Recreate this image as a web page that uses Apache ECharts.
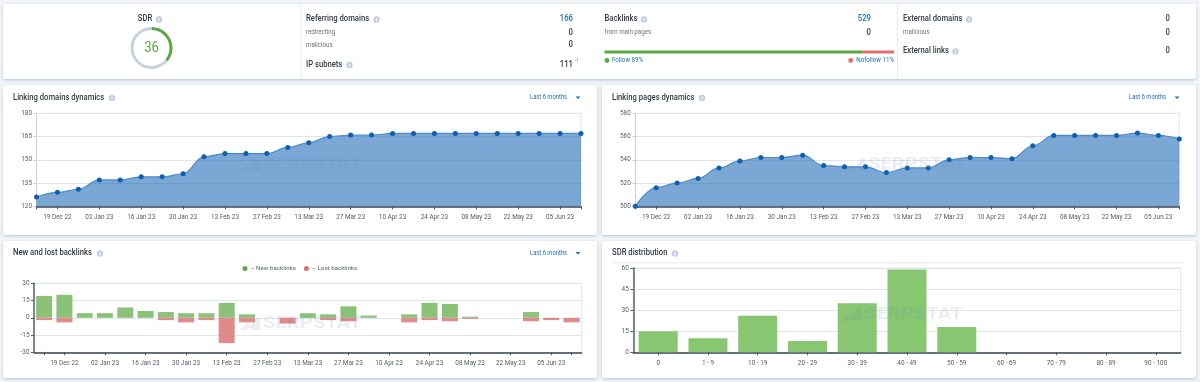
<!DOCTYPE html>
<html><head><meta charset="utf-8">
<style>
html,body{margin:0;padding:0;background:#f2f4f8;width:1200px;height:382px;overflow:hidden}
.card{position:absolute;background:#fff;border-radius:2px;box-shadow:0 1px 3px rgba(130,150,190,.55)}
#c{position:absolute;left:0;top:0;width:1200px;height:382px}
</style>
<script src="https://cdn.jsdelivr.net/npm/echarts@6/dist/echarts.min.js"></script>
</head><body>
<div class="card" style="left:3px;top:4px;width:1193px;height:75px"></div>
<div class="card" style="left:3px;top:85px;width:594px;height:150px"></div>
<div class="card" style="left:602px;top:85px;width:594px;height:150px"></div>
<div class="card" style="left:3px;top:241px;width:594px;height:137px"></div>
<div class="card" style="left:602px;top:241px;width:594px;height:137px"></div>
<div id="c"></div>
<script>
const weeks = ['12 Dec 22','19 Dec 22','26 Dec 22','02 Jan 23','09 Jan 23','16 Jan 23','23 Jan 23','30 Jan 23','06 Feb 23','13 Feb 23','20 Feb 23','27 Feb 23','06 Mar 23','13 Mar 23','20 Mar 23','27 Mar 23','03 Apr 23','10 Apr 23','17 Apr 23','24 Apr 23','01 May 23','08 May 23','15 May 23','22 May 23','29 May 23','05 Jun 23','12 Jun 23'];
const linkingDomains = [126,129,131,137,137,139,139,141,152,154,154,154,158,161,165,166,166,167,167,167,167,167,167,167,167,167,167];
const linkingPages = [500,516,520,524,533,539,542,542,544,535,534,534,529,533,533,540,542,542,541,552,561,561,561,561,563,561,558];
const newBacklinks = [19,20,4,4,9,6,5,4,4,13,3,0,0,4,3,10,2,0,3,13,12,1,0,0,5,0,0];
const lostBacklinks = [-2,-4,0,0,0,0,-2,-4,-2,-22,-4,0,-5,0,-2,-3,0,0,-4,-2,-3,-1,0,0,-3,-2,-4];
const sdrBuckets = ['0','1 - 9','10 - 19','20 - 29','30 - 39','40 - 49','50 - 59','60 - 69','70 - 79','80 - 89','90 - 100'];
const sdrCounts = [15,10,26,8,35,59,18,0,0,0,0];
const sdrScore = 36;
const followPct = 89, nofollowPct = 11;

const FONT='Roboto, "Noto Sans", sans-serif';
const INK='#333a45', SUB='#6a7280', BLUE='#1f6fb9', AX='#5a6068';
const GREEN='#5aa845', RED='#df6f6f';
const SQ=0.87;
const gfx=[];
function txt(x,y,s,o={}){gfx.push({type:'text',x,y,scaleX:o.sx||SQ,z:o.z||5,silent:true,style:{text:String(s),fill:o.c||INK,
  font:(o.w||400)+' '+(o.s||9)+'px '+FONT,textAlign:o.a||'left',textVerticalAlign:'middle'}});}
function info(x,y){
  gfx.push({type:'circle',z:5,silent:true,shape:{cx:x,cy:y,r:3.2},style:{fill:'#c2cfe2'}});
  gfx.push({type:'rect',z:6,silent:true,shape:{x:x-0.5,y:y-1.6,width:1,height:3.4},style:{fill:'#fff'}});
}
const H=8.8, V=8.9, S=7.1;
function head(x,y,s,ix){txt(x,y,s,{s:H,w:500});info(ix,y+0.5);}
function period(x,y,cx){
  txt(x,y,'Last 6 months',{s:6.7,c:BLUE});
  gfx.push({type:'polygon',z:5,silent:true,shape:{points:[[cx-2.5,y-1],[cx+2.5,y-1],[cx,y+1.5]]},style:{fill:BLUE}});
}
function mark(x,y){
  const c='rgba(105,135,175,.14)';
  txt(x+23,y,'SERPSTAT',{s:17,w:700,c,z:20,sx:1.19});
  gfx.push({type:'polygon',z:20,silent:true,shape:{points:[[x,y+6],[x+7,y-1],[x+10,y+2],[x+17,y-6],[x+13,y-6],[x+20,y-7],[x+20,y+6],[x+14,y+6],[x+10,y+4],[x+6,y+6]]},style:{fill:c}});
}
// top row
txt(145,19,'SDR',{s:H,a:'center',w:500});info(159,19.5);
txt(151.5,48.5,sdrScore,{s:15,c:GREEN,a:'center'});
head(306,19,'Referring domains',376.5);
txt(573,19,'166',{s:V,c:BLUE,a:'right',w:500});
txt(306,32.5,'redirecting',{s:S,c:SUB});txt(573,32.5,'0',{s:V,a:'right',w:500});
txt(306,45,'malicious',{s:S,c:SUB});txt(573,45,'0',{s:V,a:'right',w:500});
head(306,64.5,'IP subnets',349.5);
txt(573,64.5,'111',{s:V,a:'right',w:500});txt(575,61,'-1',{s:5.5,c:RED});
head(604.5,19,'Backlinks',644);
txt(871,19,'529',{s:V,c:BLUE,a:'right',w:500});
txt(604.5,32.5,'from main pages',{s:S,c:SUB});txt(871,32.5,'0',{s:V,a:'right',w:500});
head(903,19,'External domains',969);
txt(1170,19,'0',{s:V,a:'right',w:500});
txt(903,32.5,'malicious',{s:S,c:SUB});txt(1170,32.5,'0',{s:V,a:'right',w:500});
head(903,51,'External links',955.5);txt(1170,51,'0',{s:V,a:'right',w:500});
gfx.push({type:'circle',z:5,silent:true,shape:{cx:607,cy:60.5,r:2.4},style:{fill:GREEN}});
txt(612,60.5,'Follow '+followPct+'%',{s:7.1,c:BLUE});
gfx.push({type:'circle',z:5,silent:true,shape:{cx:850.7,cy:60.5,r:2.4},style:{fill:RED}});
txt(894,60.5,'Nofollow '+nofollowPct+'%',{s:7.1,c:BLUE,a:'right'});
[[301,4,79],[897.5,4,79]].forEach(l=>gfx.push({type:'line',z:1,silent:true,shape:{x1:l[0],y1:l[1],x2:l[0],y2:l[2]},style:{stroke:'#e6eaf2',lineWidth:1}}));
// chart heads
head(13,97.5,'Linking domains dynamics',112);period(530,97.5,578);
head(612,97.5,'Linking pages dynamics',702);period(1129,97.5,1177);
head(13,253,'New and lost backlinks',100);period(530,253,578);
head(612,253,'SDR distribution',675);
gfx.push({type:'line',z:1,silent:true,shape:{x1:612,y1:262.7,x2:1185,y2:262.7},style:{stroke:'#eef1f6',lineWidth:1.5}});
mark(240,165);mark(845,165);mark(240,324);mark(841,315);

const tickI=(i)=>i===0||i%2===1||i===26;
const lblI=(i)=>i%2===1;
const lab={fontFamily:FONT,fontSize:6.4,color:'#555c66'};
const gridBox=(left,right,top,bottom)=>({left,top,width:right-left,height:bottom-top,show:true,borderColor:'#dfe5ef',borderWidth:1,backgroundColor:'transparent',containLabel:false});
const grids=[gridBox(36.5,581,113.3,206.3),gridBox(635.3,1179.3,113.3,206.3),gridBox(34,581.7,283.3,352.3),gridBox(633.3,1180.7,268,352.3),
  {left:604.5,width:289.5,top:50.5,height:3}];
const split={show:true,lineStyle:{color:'#dfe5ef',width:1}};
function yA(g,min,max,interval,dark){return {type:'value',gridIndex:g,min,max,interval,splitLine:split,
  axisLine:{show:true,lineStyle:{color:dark?AX:'#c6d2e4',width:dark?1.5:1}},axisTick:{show:true,length:3,lineStyle:{color:dark?AX:'#c6d2e4'}},axisLabel:{...lab,margin:4.5}};}
function xA(g,data,bg,ti,li){return {type:'category',gridIndex:g,data,boundaryGap:bg,
  axisLine:{show:true,onZero:false,lineStyle:{color:'#3a4452',width:1.5}},
  axisTick:{show:true,alignWithLabel:true,length:3,interval:ti,lineStyle:{color:'#4a5360'}},
  axisLabel:{...lab,interval:li,margin:8,hideOverlap:false,showMinLabel:null,showMaxLabel:null},splitLine:{show:false}};}
function area(name,data,i){return {type:'line',name,data,xAxisIndex:i,yAxisIndex:i,smooth:0.4,smoothMonotone:'x',symbol:'circle',symbolSize:5,showSymbol:true,
  itemStyle:{color:'#0f5fb0'},lineStyle:{color:'#4a8ccb',width:1.2},areaStyle:{color:'#0f5fb0',opacity:.55},animation:false,z:3};}
const option={
  animation:false,backgroundColor:'transparent',textStyle:{fontFamily:FONT},
  grid:grids,
  legend:{show:true,left:242.5,top:265.5,itemWidth:5,itemHeight:5,itemGap:8,icon:'circle',padding:0,
    formatter:n=>'– '+n,textStyle:{fontFamily:FONT,fontSize:6.2,color:'#5a6270',padding:[0,0,0,-2]},
    data:[{name:'New backlinks',itemStyle:{color:GREEN,borderWidth:0}},{name:'Lost backlinks',itemStyle:{color:RED,borderWidth:0}}]},
  xAxis:[xA(0,weeks,false,tickI,lblI),xA(1,weeks,false,tickI,lblI),xA(2,weeks,true,tickI,lblI),xA(3,sdrBuckets,true,0,0),
    {type:'value',gridIndex:4,min:0,max:100,show:false}],
  yAxis:[yA(0,120,180,15,false),yA(1,500,580,20,false),yA(2,-30,30,15,true),yA(3,0,60,15,true),
    {type:'category',gridIndex:4,data:['links'],show:false}],
  series:[
    area('Linking domains',linkingDomains,0),
    area('Linking pages',linkingPages,1),
    {type:'bar',name:'New backlinks',data:newBacklinks,xAxisIndex:2,yAxisIndex:2,stack:'b',barWidth:16,itemStyle:{color:'#8cc278',borderWidth:0}},
    {type:'bar',name:'Lost backlinks',data:lostBacklinks,xAxisIndex:2,yAxisIndex:2,stack:'b',barWidth:16,itemStyle:{color:'#e08b8b',borderWidth:0}},
    {type:'bar',name:'SDR distribution',data:sdrCounts,xAxisIndex:3,yAxisIndex:3,barWidth:39,itemStyle:{color:'#88c672',borderWidth:0}},
    {type:'bar',name:'Follow',data:[followPct],xAxisIndex:4,yAxisIndex:4,stack:'f',barWidth:3,itemStyle:{color:GREEN}},
    {type:'bar',name:'Nofollow',data:[nofollowPct],xAxisIndex:4,yAxisIndex:4,stack:'f',barWidth:3,itemStyle:{color:RED}},
    {type:'pie',name:'SDR',center:[151.5,48],radius:[18,21],startAngle:90,clockwise:true,silent:true,label:{show:false},labelLine:{show:false},
      data:[{value:sdrScore,itemStyle:{color:GREEN}},{value:100-sdrScore,itemStyle:{color:'#c8d1df'}}]}
  ],
  graphic:{elements:gfx}
};
const chart=echarts.init(document.getElementById('c'),null,{renderer:'canvas',width:1200,height:382});
chart.setOption(option);
</script>
</body></html>
